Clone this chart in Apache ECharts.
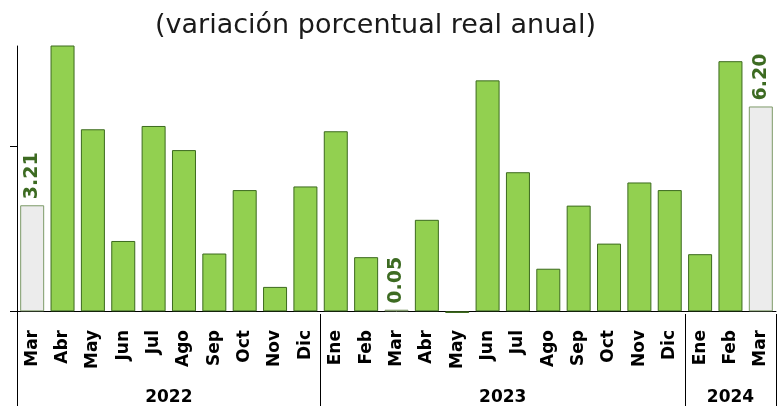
<!DOCTYPE html>
<html>
<head>
<meta charset="utf-8">
<script src="https://cdn.jsdelivr.net/npm/echarts@6/dist/echarts.min.js"></script>
<style>
  html, body { margin: 0; padding: 0; background: #fff; }
  #chart { width: 782px; height: 406px; }
</style>
</head>
<body>
<div id="chart"></div>
<script>
// months from Mar 2022 to Mar 2024
const months = ['Mar', 'Abr', 'May', 'Jun', 'Jul', 'Ago', 'Sep', 'Oct', 'Nov', 'Dic',
  'Ene', 'Feb', 'Mar', 'Abr', 'May', 'Jun', 'Jul', 'Ago', 'Sep', 'Oct', 'Nov', 'Dic',
  'Ene', 'Feb', 'Mar']
const values = [3.21, 8.6, 5.51, 2.13, 5.61, 4.88, 1.75, 3.67, 0.74, 3.78,
  5.45, 1.64, 0.05, 2.77, -0.05, 6.99, 4.21, 1.29, 3.20, 2.05, 3.90, 3.67,
  1.73, 7.57, 6.20]
// bars shown in grey with their value written above
const labeled = [0, 12, 24]
const years = ['2022', '2023', '2024']
const yearCounts = [10, 12, 3]

// group boundaries and centres on a 0..25 scale that matches the category bands
let bounds = [0]
let centers = []
for (let i = 0; i < yearCounts.length; i++) {
  let start = bounds[bounds.length - 1]
  centers.push(start + yearCounts[i] / 2)
  bounds.push(start + yearCounts[i])
}

let chart = echarts.init(document.getElementById('chart'))
let option = {
  animation: false,
  title: {
    text: '(variación porcentual real anual)',
    left: 150,
    top: 7,
    textStyle: { fontFamily: 'DejaVu Sans', fontWeight: 'normal', fontSize: 27, color: '#1a1a1a' },
  },
  grid: { left: 17, right: 6, top: 46, bottom: 92 },
  xAxis: [
    {
      type: 'category',
      data: months,
      axisLine: { onZero: true, lineStyle: { color: '#000', width: 1 } },
      axisTick: { show: false },
      axisLabel: {
        rotate: 90,
        interval: 0,
        margin: 16,
        color: '#000',
        fontFamily: 'DejaVu Sans',
        fontWeight: 'bold',
        fontSize: 17,
      },
    },
    {
      type: 'value',
      min: 0,
      max: months.length,
      position: 'bottom',
      axisLine: { show: false },
      splitLine: { show: false },
      axisTick: {
        show: true,
        customValues: bounds,
        length: 95,
        lineStyle: { color: '#000', width: 1 },
      },
      axisLabel: {
        customValues: centers,
        margin: 75,
        color: '#000',
        fontFamily: 'DejaVu Sans',
        fontWeight: 'bold',
        fontSize: 17,
        formatter: v => years[centers.indexOf(v)],
      },
    },
  ],
  yAxis: {
    type: 'value',
    min: -0.08,
    max: 8.03,
    axisLine: { show: true, lineStyle: { color: '#000', width: 1 } },
    axisTick: { show: true, customValues: [0, 5], length: 7, lineStyle: { color: '#000' } },
    axisLabel: { show: false },
    splitLine: { show: false },
  },
  series: [
    {
      type: 'bar',
      barWidth: 24,
      clip: true,
      data: values.map((v, i) => {
        let hl = labeled.includes(i)
        return {
          value: v,
          itemStyle: hl
            ? { color: '#ececec', borderColor: '#7d9a68', borderWidth: 1 }
            : { color: '#92d050', borderColor: '#3c6a1e', borderWidth: 1 },
          label: {
            show: hl,
            position: 'top',
            rotate: 90,
            align: 'left',
            verticalAlign: 'middle',
            distance: 6,
            formatter: p => p.value.toFixed(2),
            color: '#3d6b22',
            fontFamily: 'DejaVu Sans',
            fontWeight: 'bold',
            fontSize: 19,
          },
        }
      }),
    },
  ],
}
chart.setOption(option)
</script>
</body>
</html>
